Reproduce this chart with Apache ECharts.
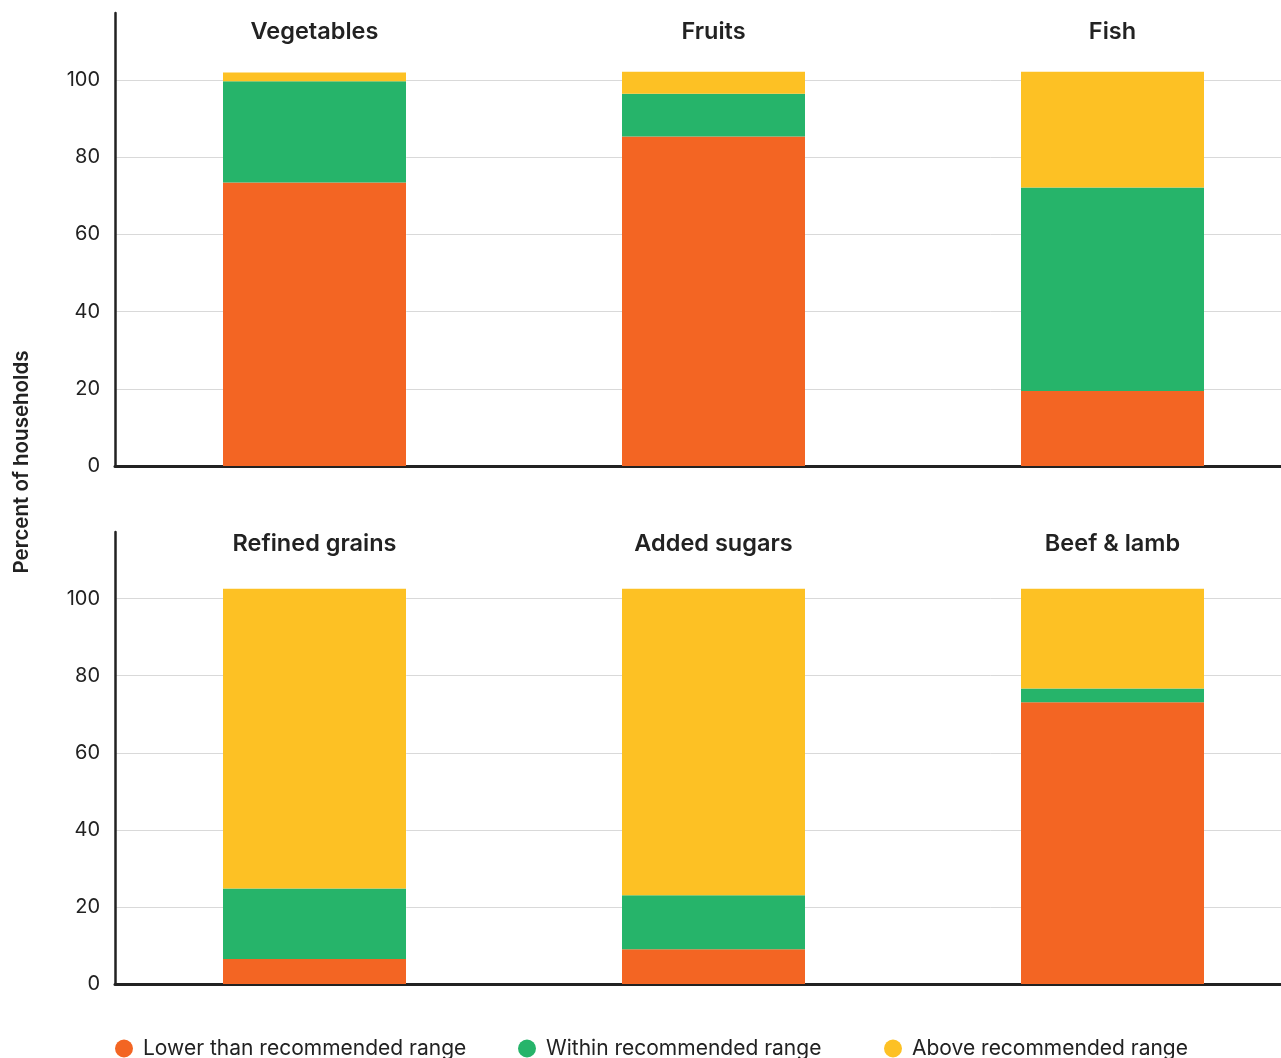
<!DOCTYPE html>
<html>
<head>
<meta charset="utf-8">
<script src="https://cdn.jsdelivr.net/npm/echarts@6/dist/echarts.min.js"></script>
<style>
  html, body { margin: 0; padding: 0; background: #fff; }
  #chart { width: 1281px; height: 1058px; }
</style>
</head>
<body>
<div id="chart"></div>
<script>
var topCats = ['Vegetables', 'Fruits', 'Fish'];
var bottomCats = ['Refined grains', 'Added sugars', 'Beef & lamb'];
var seriesNames = ['Lower than recommended range', 'Within recommended range', 'Above recommended range'];
var colors = ['#F36523', '#26B46A', '#FDC124'];

var topLower = [73.4, 85.3, 19.4];
var topWithin = [26.2, 11.1, 52.7];
var topAbove = [2.3, 5.7, 30.0];

var bottomLower = [6.5, 9.0, 73.1];
var bottomWithin = [18.3, 14.0, 3.6];
var bottomAbove = [77.8, 79.6, 25.9];

var yTicks = [0, 20, 40, 60, 80, 100];

var chart = echarts.init(document.getElementById('chart'));

var font = 'Inter, "Noto Sans", sans-serif';

function yAxis(gridIndex) {
    return {
        type: 'value',
        gridIndex: gridIndex,
        min: 0,
        max: 117.3,
        interval: 20,
        axisLine: { show: true, lineStyle: { color: '#222', width: 2.5 } },
        axisTick: { show: false },
        axisLabel: {
            color: '#222',
            fontSize: 20,
            fontFamily: font,
            margin: 15,
            showMaxLabel: false,
            formatter: function (v) { return yTicks.indexOf(v) >= 0 ? String(v) : ''; }
        },
        splitLine: { show: true, showMinLine: false, showMaxLine: false, lineStyle: { color: '#d9d9d9', width: 1 } }
    };
}

function baseX(gridIndex, cats) {
    return {
        type: 'category',
        gridIndex: gridIndex,
        data: cats,
        position: 'bottom',
        axisLine: { show: true, lineStyle: { color: '#222', width: 3 } },
        axisTick: { show: false },
        axisLabel: { show: false },
        splitLine: { show: false }
    };
}

function titleX(gridIndex, cats, margin) {
    return {
        type: 'category',
        gridIndex: gridIndex,
        data: cats,
        position: 'top',
        axisLine: { show: false },
        axisTick: { show: false },
        axisLabel: {
            show: true,
            color: '#222',
            fontSize: 23.5,
            fontWeight: 600,
            fontFamily: font,
            verticalAlign: 'middle',
            margin: margin
        },
        splitLine: { show: false }
    };
}

function bar(name, data, xIdx, yIdx, stack, color) {
    return {
        name: name,
        type: 'bar',
        stack: stack,
        xAxisIndex: xIdx,
        yAxisIndex: yIdx,
        barWidth: 183,
        itemStyle: { color: color },
        data: data
    };
}

function legend(name, left) {
    return {
        data: [name],
        left: left,
        top: 1033,
        icon: 'circle',
        itemWidth: 18,
        itemHeight: 18,
        selectedMode: false,
        textStyle: { color: '#222', fontSize: 21, fontFamily: font, padding: [0, 0, 0, 5] }
    };
}

chart.setOption({
    backgroundColor: '#fff',
    animation: false,
    grid: [
        { left: 115, top: 13, width: 1197, height: 453, outerBoundsMode: 'none' },
        { left: 115, top: 532, width: 1197, height: 452, outerBoundsMode: 'none' }
    ],
    xAxis: [
        baseX(0, topCats),
        titleX(0, topCats, -19),
        baseX(1, bottomCats),
        titleX(1, bottomCats, -12)
    ],
    yAxis: [yAxis(0), yAxis(1)],
    legend: [
        legend(seriesNames[0], 110),
        legend(seriesNames[1], 513),
        legend(seriesNames[2], 879)
    ],
    graphic: [{
        type: 'text',
        x: 22,
        y: 462,
        rotation: Math.PI / 2,
        style: {
            text: 'Percent of households',
            fill: '#222',
            font: '600 20.5px ' + font,
            textAlign: 'center',
            textVerticalAlign: 'middle'
        }
    }],
    series: [
        bar(seriesNames[0], topLower, 0, 0, 'top', colors[0]),
        bar(seriesNames[1], topWithin, 0, 0, 'top', colors[1]),
        bar(seriesNames[2], topAbove, 0, 0, 'top', colors[2]),
        bar(seriesNames[0], bottomLower, 2, 1, 'bottom', colors[0]),
        bar(seriesNames[1], bottomWithin, 2, 1, 'bottom', colors[1]),
        bar(seriesNames[2], bottomAbove, 2, 1, 'bottom', colors[2])
    ]
});
</script>
</body>
</html>
